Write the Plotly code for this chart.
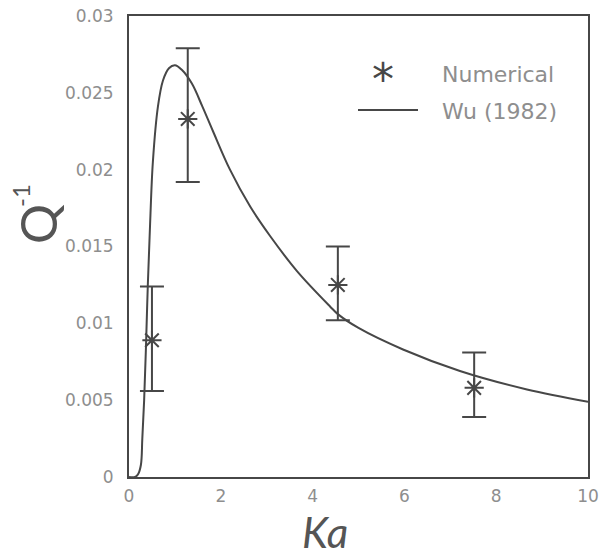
import plotly.graph_objects as go

# Numerical results (Ka, Q^-1, error bar up/down)
num_ka = [0.5, 1.28, 4.55, 7.52]
num_q = [0.0089, 0.0233, 0.0125, 0.0058]
num_err_plus = [0.0035, 0.0046, 0.0025, 0.0023]
num_err_minus = [0.0033, 0.0041, 0.0023, 0.0019]

# Wu (1982) curve
wu_ka = [0.0, 0.13, 0.2, 0.26, 0.29, 0.33, 0.37, 0.41, 0.46, 0.52, 0.63, 0.74,
         0.87, 1.0, 1.15, 1.37, 1.6, 1.83, 2.2, 2.64, 3.07, 3.66, 4.38, 4.55,
         5.0, 5.97, 7.21, 8.67, 10.0]
wu_q = [0.0, 0.0, 0.0002, 0.0008, 0.0025, 0.005, 0.0085, 0.0125, 0.0165, 0.0205,
        0.0241, 0.0258, 0.0266, 0.0268, 0.0265, 0.0256, 0.0241, 0.0225, 0.0200,
        0.0176, 0.0157, 0.0134, 0.0111, 0.0106, 0.0097, 0.0083, 0.0069, 0.0057, 0.0049]

x_ticks = [0, 2, 4, 6, 8, 10]
y_ticks = [0, 0.005, 0.01, 0.015, 0.02, 0.025, 0.03]

legend_labels = ["Numerical", "Wu (1982)"]
x_title = "<i>Ka</i>"
y_title_base = "Q"
y_title_exp = "-1"

dark = "#474747"
grey = "#8e8e8e"
title_col = "#555555"
font_family = "'DejaVu Sans', sans-serif"
title_family = "Lato, 'DejaVu Sans', sans-serif"

W, H = 605, 559
L, R, T, B = 129, 17, 16, 82
PW, PH = W - L - R, H - T - B


def px(xp):
    return (xp - L) / PW


def py(yp):
    return (H - B - yp) / PH


fig = go.Figure()
fig.add_trace(go.Scatter(
    x=wu_ka, y=wu_q, mode="lines", name=legend_labels[1],
    line=dict(color=dark, width=2, shape="spline", smoothing=1.0),
    showlegend=False,
))
fig.add_trace(go.Scatter(
    x=num_ka, y=num_q, mode="markers", name=legend_labels[0],
    marker=dict(symbol="asterisk-open", size=16, line=dict(color=dark, width=2), color=dark),
    error_y=dict(type="data", array=num_err_plus, arrayminus=num_err_minus,
                 color=dark, thickness=2, width=12),
    showlegend=False,
))

annotations = [
    # legend
    dict(x=px(383), y=py(80), xref="paper", yref="paper", text="*", showarrow=False,
         font=dict(size=44, color=dark, family="DejaVu Sans"), xanchor="center", yanchor="middle"),
    dict(x=px(440), y=py(75), xref="paper", yref="paper", text=legend_labels[0], showarrow=False,
         font=dict(size=22, color=grey), xanchor="left", yanchor="middle"),
    dict(x=px(440), y=py(111), xref="paper", yref="paper", text=legend_labels[1], showarrow=False,
         font=dict(size=22, color=grey), xanchor="left", yanchor="middle"),
    # axis titles
    dict(x=px(325), y=py(532), xref="paper", yref="paper", text=x_title, showarrow=False,
         font=dict(size=42, color=title_col, family=title_family),
         xanchor="center", yanchor="middle"),
    dict(x=px(38), y=py(224), xref="paper", yref="paper", text=y_title_base, showarrow=False,
         textangle=-90, font=dict(size=50, color=title_col, family=title_family),
         xanchor="center", yanchor="middle"),
    dict(x=px(21), y=py(196), xref="paper", yref="paper", text=y_title_exp, showarrow=False,
         textangle=-90, font=dict(size=24, color=title_col, family=title_family),
         xanchor="center", yanchor="middle"),
]

shapes = [
    dict(type="line", xref="paper", yref="paper", x0=px(358), x1=px(418),
         y0=py(110), y1=py(110), line=dict(color=dark, width=2)),
]

fig.update_layout(
    width=W, height=H,
    margin=dict(l=L, r=R, t=T, b=B, autoexpand=False),
    paper_bgcolor="white", plot_bgcolor="white",
    font=dict(family=font_family, color=grey, size=17),
    showlegend=False,
    annotations=annotations,
    shapes=shapes,
)
fig.update_xaxes(
    range=[0, 10], tickvals=x_ticks, showgrid=False, zeroline=False,
    showline=True, linecolor=dark, linewidth=2, mirror=True, ticks="",
    ticklabelstandoff=3, automargin=False,
)
fig.update_yaxes(
    range=[0, 0.03], tickvals=y_ticks, showgrid=False, zeroline=False,
    showline=True, linecolor=dark, linewidth=2, mirror=True, ticks="",
    ticklabelstandoff=10, automargin=False,
)

fig.write_html("out.html", config={"displayModeBar": False},
               post_script="document.body.style.margin='0';")
